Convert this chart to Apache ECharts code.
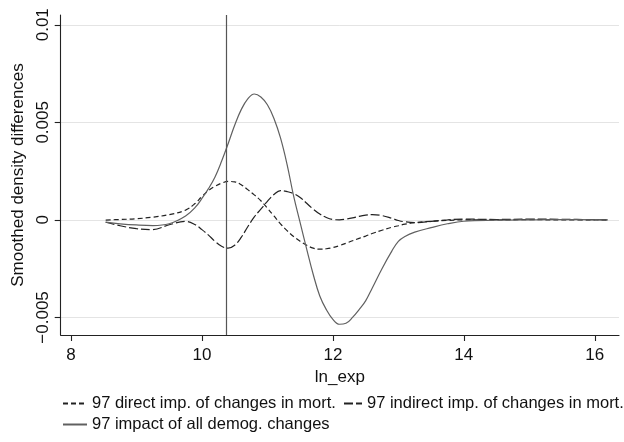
<!DOCTYPE html>
<html>
<head>
<meta charset="utf-8">
<script src="https://cdn.jsdelivr.net/npm/echarts@6/dist/echarts.min.js"></script>
<style>
  html, body { margin: 0; padding: 0; background: #fff; }
  #chart { width: 624px; height: 442px; }
</style>
</head>
<body>
<div id="chart"></div>
<script>
// x positions (ln_exp) where the curves were read
var lnExp = [8.53, 8.75, 9.0, 9.25, 9.5, 9.75, 9.9, 10.0, 10.1, 10.2, 10.3, 10.4, 10.5, 10.6, 10.7,
  10.8, 10.9, 11.0, 11.1, 11.2, 11.3, 11.4, 11.5, 11.6, 11.7, 11.8, 11.9, 12.0, 12.1, 12.2,
  12.3, 12.4, 12.5, 12.6, 12.75, 12.9, 13.0, 13.1, 13.25, 13.5, 13.75, 14.0, 14.5, 15.0, 15.5, 16.2];

// values in units of 0.001
var directImp = [-0.01, 0.02, 0.06, 0.14, 0.27, 0.5, 0.85, 1.2, 1.5, 1.72, 1.88, 1.97, 1.95, 1.8, 1.55,
  1.28, 0.98, 0.6, 0.2, -0.2, -0.55, -0.85, -1.1, -1.3, -1.45, -1.5, -1.48, -1.42, -1.32, -1.2,
  -1.07, -0.95, -0.83, -0.7, -0.53, -0.38, -0.3, -0.22, -0.14, -0.07, -0.03, 0, 0, 0.01, 0, 0];

var indirectImp = [-0.12, -0.3, -0.45, -0.5, -0.25, -0.08, -0.25, -0.5, -0.78, -1.1, -1.35, -1.45, -1.3, -0.9, -0.35,
  0.15, 0.55, 0.95, 1.3, 1.5, 1.45, 1.35, 1.15, 0.85, 0.55, 0.3, 0.12, 0.02, 0, 0.04,
  0.1, 0.18, 0.24, 0.27, 0.22, 0.08, -0.03, -0.1, -0.14, -0.08, 0, 0.04, 0.02, 0.04, 0.03, 0];

var allDemog = [-0.12, -0.2, -0.26, -0.29, -0.2, 0.2, 0.65, 1.1, 1.6, 2.2, 3.0, 3.9, 4.85, 5.65, 6.2,
  6.45, 6.3, 5.9, 5.2, 4.2, 2.85, 1.23, -0.14, -1.5, -2.8, -3.9, -4.6, -5.1, -5.35, -5.3,
  -5.0, -4.6, -4.15, -3.5, -2.5, -1.6, -1.1, -0.85, -0.63, -0.4, -0.2, -0.07, -0.02, 0, 0.01, 0];

var xTicks = [8, 10, 12, 14, 16];
var yTicks = [-0.005, 0, 0.005, 0.01];
var yTickLabels = ['\u22120.005', '0', '0.005', '0.01'];
var cutLine = 10.37;

var names = ['97 direct imp. of changes in mort.', '97 indirect imp. of changes in mort.', '97 impact of all demog. changes'];

function pairs(ys) {
  return lnExp.map(function(x, i) { return [x, ys[i] / 1000]; });
}

var font = "'Liberation Sans', Arial, sans-serif";
var chart = echarts.init(document.getElementById('chart'));

var legendBase = {
  orient: 'horizontal',
  padding: 0,
  itemHeight: 12,
  selectedMode: false,
  itemStyle: { opacity: 0 },
  textStyle: { fontFamily: font, fontSize: 16.5, color: '#111' }
};

var option = {
  animation: false,
  backgroundColor: '#fff',
  grid: { left: 60.7, right: 5, top: 15, bottom: 107, containLabel: false },
  xAxis: {
    type: 'value',
    min: 7.843,
    max: 16.37,
    name: 'ln_exp',
    nameLocation: 'middle',
    nameGap: 31,
    nameTextStyle: { fontFamily: font, fontSize: 17, color: '#111' },
    axisLine: { onZero: false, lineStyle: { color: '#222', width: 1.1 } },
    axisTick: { customValues: xTicks, length: 6, lineStyle: { color: '#222', width: 1.1 } },
    axisLabel: { customValues: xTicks, margin: 12, fontFamily: font, fontSize: 17, color: '#111' },
    splitLine: { show: false }
  },
  yAxis: {
    type: 'value',
    min: -0.0059,
    max: 0.0105,
    name: 'Smoothed density differences',
    nameLocation: 'middle',
    nameGap: 34,
    nameTextStyle: { fontFamily: font, fontSize: 17, color: '#111' },
    axisLine: { show: true, onZero: false, lineStyle: { color: '#222', width: 1.1 } },
    axisTick: { show: true, customValues: yTicks, length: 6, lineStyle: { color: '#222', width: 1.1 } },
    axisLabel: {
      customValues: yTicks, rotate: 90, margin: 9, fontFamily: font, fontSize: 17, color: '#111',
      formatter: function(v) {
        for (var i = 0; i < yTicks.length; i++) {
          if (Math.abs(yTicks[i] - v) < 1e-9) return yTickLabels[i];
        }
        return '';
      }
    },
    splitLine: { show: true, lineStyle: { color: '#e4e4e4', width: 1 } }
  },
  legend: [
    Object.assign({}, legendBase, { data: [names[0]], left: 62, top: 395, itemWidth: 24 }),
    Object.assign({}, legendBase, { data: [names[1]], left: 343, top: 395, itemWidth: 18 }),
    Object.assign({}, legendBase, { data: [names[2]], left: 62, top: 416, itemWidth: 24 })
  ],
  series: [
    {
      name: names[0], type: 'line', data: pairs(directImp), smooth: 0.4,
      symbol: 'none', lineStyle: { color: '#222', width: 1.2, type: [5, 3] },
      markLine: {
        silent: true, symbol: 'none', label: { show: false },
        lineStyle: { color: '#555', width: 1.2, type: 'solid' },
        data: [{ xAxis: cutLine }]
      }
    },
    {
      name: names[1], type: 'line', data: pairs(indirectImp), smooth: 0.4,
      symbol: 'none', lineStyle: { color: '#222', width: 1.2, type: [9, 3] }
    },
    {
      name: names[2], type: 'line', data: pairs(allDemog), smooth: 0.4,
      symbol: 'none', lineStyle: { color: '#606060', width: 1.2, type: 'solid' }
    }
  ]
};

chart.setOption(option);
</script>
</body>
</html>
